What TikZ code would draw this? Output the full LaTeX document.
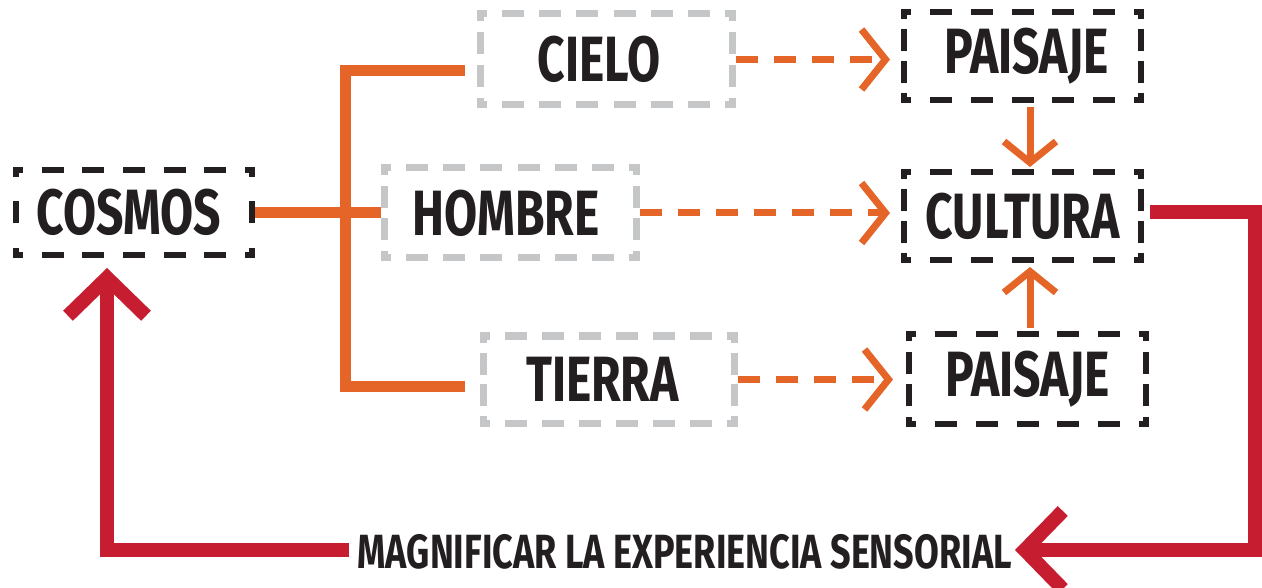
\documentclass[tikz,border=0pt]{standalone}
\usepackage{fontspec}
\newfontfamily\lbl{Fira Sans}[FakeStretch=0.75]
\usetikzlibrary{arrows.meta,calc}
\definecolor{org}{HTML}{E56528}
\definecolor{rd}{HTML}{C61D30}
\definecolor{gr}{HTML}{C5C6C8}
\definecolor{bk}{HTML}{231F20}
% one side of a dashed box, with dashes aligned to its corners
\newcommand\dside[7]{%
  \pgfmathsetmacro\dsL{#5}%
  \pgfmathsetmacro\dsh{7+#7/2}%
  \pgfmathsetmacro\dsLL{\dsL+#7}%
  \pgfmathsetmacro\dsn{max(1,round((\dsLL-2*\dsh+22)/(22+16)))}%
  \pgfmathsetmacro\dsb{(\dsLL-2*\dsh-(\dsn-1)*22)/\dsn}%
  \pgfmathsetmacro\dsph{22-\dsh}%
  \pgfmathsetmacro\dsux{(#3-#1)/\dsL}%
  \pgfmathsetmacro\dsuy{(#4-#2)/\dsL}%
  \pgfmathsetmacro\dsxa{#1-\dsux*#7/2}%
  \pgfmathsetmacro\dsya{#2-\dsuy*#7/2}%
  \pgfmathsetmacro\dsxb{#3+\dsux*#7/2}%
  \pgfmathsetmacro\dsyb{#4+\dsuy*#7/2}%
  \draw[draw=#6, line width=#7pt, dash pattern=on 22pt off \dsb pt, dash phase=\dsph pt]
    (\dsxa pt,\dsya pt) -- (\dsxb pt,\dsyb pt);%
}
% dashed frame round a node: node name, colour, line width
\newcommand\dbox[3]{%
  \pgfpointanchor{#1}{south west}\pgfgetlastxy{\dbxa}{\dbya}%
  \pgfpointanchor{#1}{north east}\pgfgetlastxy{\dbxb}{\dbyb}%
  \pgfmathsetmacro\dbXa{\dbxa+#3/2}%
  \pgfmathsetmacro\dbYa{\dbya+#3/2}%
  \pgfmathsetmacro\dbXb{\dbxb-#3/2}%
  \pgfmathsetmacro\dbYb{\dbyb-#3/2}%
  \pgfmathsetmacro\dbW{\dbXb-\dbXa}%
  \pgfmathsetmacro\dbH{\dbYb-\dbYa}%
  \edef\dbargs{{\dbXa}{\dbYa}{\dbXb}{\dbYa}{\dbW}}%
  \expandafter\dside\dbargs{#2}{#3}%
  \edef\dbargs{{\dbXa}{\dbYb}{\dbXb}{\dbYb}{\dbW}}%
  \expandafter\dside\dbargs{#2}{#3}%
  \edef\dbargs{{\dbXa}{\dbYa}{\dbXa}{\dbYb}{\dbH}}%
  \expandafter\dside\dbargs{#2}{#3}%
  \edef\dbargs{{\dbXb}{\dbYa}{\dbXb}{\dbYb}{\dbH}}%
  \expandafter\dside\dbargs{#2}{#3}%
}
\begin{document}
\begin{tikzpicture}[x=1pt,y=-1pt,
  lab/.style={font=\lbl\bfseries\fontsize{64}{64}\selectfont, text=bk, inner sep=0pt},
  bbox/.style={lab, line width=6pt, outer sep=3pt},
  gbox/.style={lab, line width=7pt, outer sep=3.5pt},
  obr/.style={draw=org, line width=11pt},
  darr/.style={draw=org, line width=7pt, dash pattern=on 22pt off 16pt, -{Straight Barb[length=24pt,width=60pt]}},
  sarr/.style={draw=org, line width=7pt, -{Straight Barb[length=21pt,width=52pt]}},
  rarr/.style={draw=rd, line width=14pt, -{Straight Barb[length=38pt,width=78pt]}}]
\fill[white] (0,0) rectangle (1262,588);
\useasboundingbox (0,0) rectangle (1262,588);

\node[bbox, minimum width=236pt, minimum height=85pt] (cosmos) at (134,212.5) {COSMOS\hspace*{10pt}};
\node[gbox, minimum width=252pt, minimum height=91pt] (cielo) at (606,59.5) {CIELO\hspace*{14pt}};
\node[gbox, minimum width=252pt, minimum height=90pt] (hombre) at (510,213) {HOMBRE\hspace*{8pt}};
\node[gbox, minimum width=251pt, minimum height=87pt] (tierra) at (608.5,379.5) {TIERRA\hspace*{12pt}};
\node[bbox, minimum width=237pt, minimum height=88pt] (paisajeA) at (1022.5,56) {\hspace*{8pt}PAISAJE};
\node[bbox, minimum width=237pt, minimum height=88pt] (cultura) at (1022.5,216) {CULTURA};
\node[bbox, minimum width=237pt, minimum height=90pt] (paisajeB) at (1027.5,379) {PAISAJE};
\node[font=\lbl\bfseries\fontsize{48}{48}\selectfont, text=bk, inner sep=0pt, anchor=east] (mag) at (1012,552) {MAGNIFICAR LA EXPERIENCIA SENSORIAL};

\dbox{cosmos}{bk}{6}
\dbox{paisajeA}{bk}{6}
\dbox{cultura}{bk}{6}
\dbox{paisajeB}{bk}{6}
\dbox{cielo}{gr}{7}
\dbox{hombre}{gr}{7}
\dbox{tierra}{gr}{7}

% orange bracket
\coordinate (bt) at (465,70.5);
\coordinate (bb) at (465,386.5);
\coordinate (bv) at (345,0);
\draw[obr] (cosmos.east) -- (cosmos.east -| hombre.west);
\draw[obr] (bt) -- (bt -| bv) -- (bb -| bv) -- (bb);

% dashed arrows
\draw[darr] (cielo.east) -- ($(cielo.east -| paisajeA.west)+(-11,0)$);
\draw[darr] (hombre.east) -- ($(hombre.east -| cultura.west)+(-11,0)$);
\draw[darr] (tierra.east) -- ($(tierra.east -| paisajeB.west)+(-13,0)$);

% vertical arrows
\coordinate (vx) at (1030,0);
\draw[sarr] ($(paisajeA.south -| vx)+(0,4)$) -- ($(cultura.north -| vx)+(0,-2)$);
\draw[sarr] ($(paisajeB.north -| vx)+(0,-3)$) -- ($(cultura.south -| vx)+(0,4)$);

% red loop
\coordinate (r1) at (1255,212);
\coordinate (r2) at (1255,550);
\coordinate (l1) at (107,550);
\draw[rarr] ($(cultura.east |- r1)+(6,0)$) -- (r1) -- (r2) -- ($(mag.east |- r2)+(3,0)$);
\draw[rarr] ($(mag.west |- r2)+(-8,0)$) -- (l1) -- ($(cosmos.south -| l1)+(0,10)$);
\end{tikzpicture}
\end{document}
